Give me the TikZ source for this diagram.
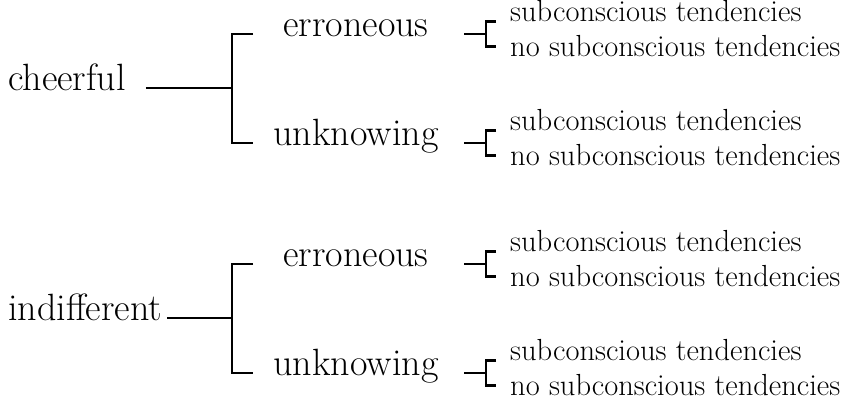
\documentclass[tikz,border=0pt]{standalone}
\usepackage{tikz}
\usetikzlibrary{calc,positioning}

\begin{document}
\begin{tikzpicture}[x=1pt,y=-1pt,
    branch/.style={line width=2.3pt},
    root/.style={inner sep=0pt,anchor=mid west,font=\fontsize{38}{44}\selectfont},
    kind/.style={inner sep=0pt,anchor=mid,font=\fontsize{38}{44}\selectfont},
    leaf/.style={inner sep=0pt,anchor=mid west,font=\fontsize{30.5}{36}\selectfont}]
  \useasboundingbox (0,0) rectangle (848,404);

  % forks and the column of the small brackets
  \coordinate (f1) at (232,88);
  \coordinate (f2) at (232,318);
  \coordinate (dx) at (464,0);

  \node[root] (cheerful)    at (8,88)  {cheerful};
  \node[root] (indifferent) at (8,318) {indifferent};

  \node[kind] (e1) at (356,34)  {erroneous};
  \node[kind] (u1) at (356,143) {unknowing};
  \node[kind] (e2) at (356,264) {erroneous};
  \node[kind] (u2) at (356,373) {unknowing};

  \draw[branch,shorten <=20pt] (cheerful.mid east) -- (f1);
  \draw[branch,shorten <=5pt] (indifferent.mid east) -- (f2);
  \draw[branch] ($(f1|-e1.mid)+(21,0)$) -- (f1|-e1.mid) -- (f1|-u1.mid) -- ++(21,0);
  \draw[branch] ($(f2|-e2.mid)+(21,0)$) -- (f2|-e2.mid) -- (f2|-u2.mid) -- ++(21,0);

  % second split, same for every branch
  \foreach \c in {e1,u1,e2,u2}{
    \draw[branch] (dx|-\c.mid) -- ++(22,0) coordinate (\c-b);
    \draw[branch] ($(\c-b)+(10,-12.5)$) -- ++(-10,0) -- ++(0,25) -- ++(10,0);
    \node[leaf] (\c-s) at ($(\c-b)+(24,-15)$) {subconscious tendencies};
    \node[leaf] (\c-n) at ($(\c-b)+(24,20)$) {no subconscious tendencies};
  }
\end{tikzpicture}
\end{document}
